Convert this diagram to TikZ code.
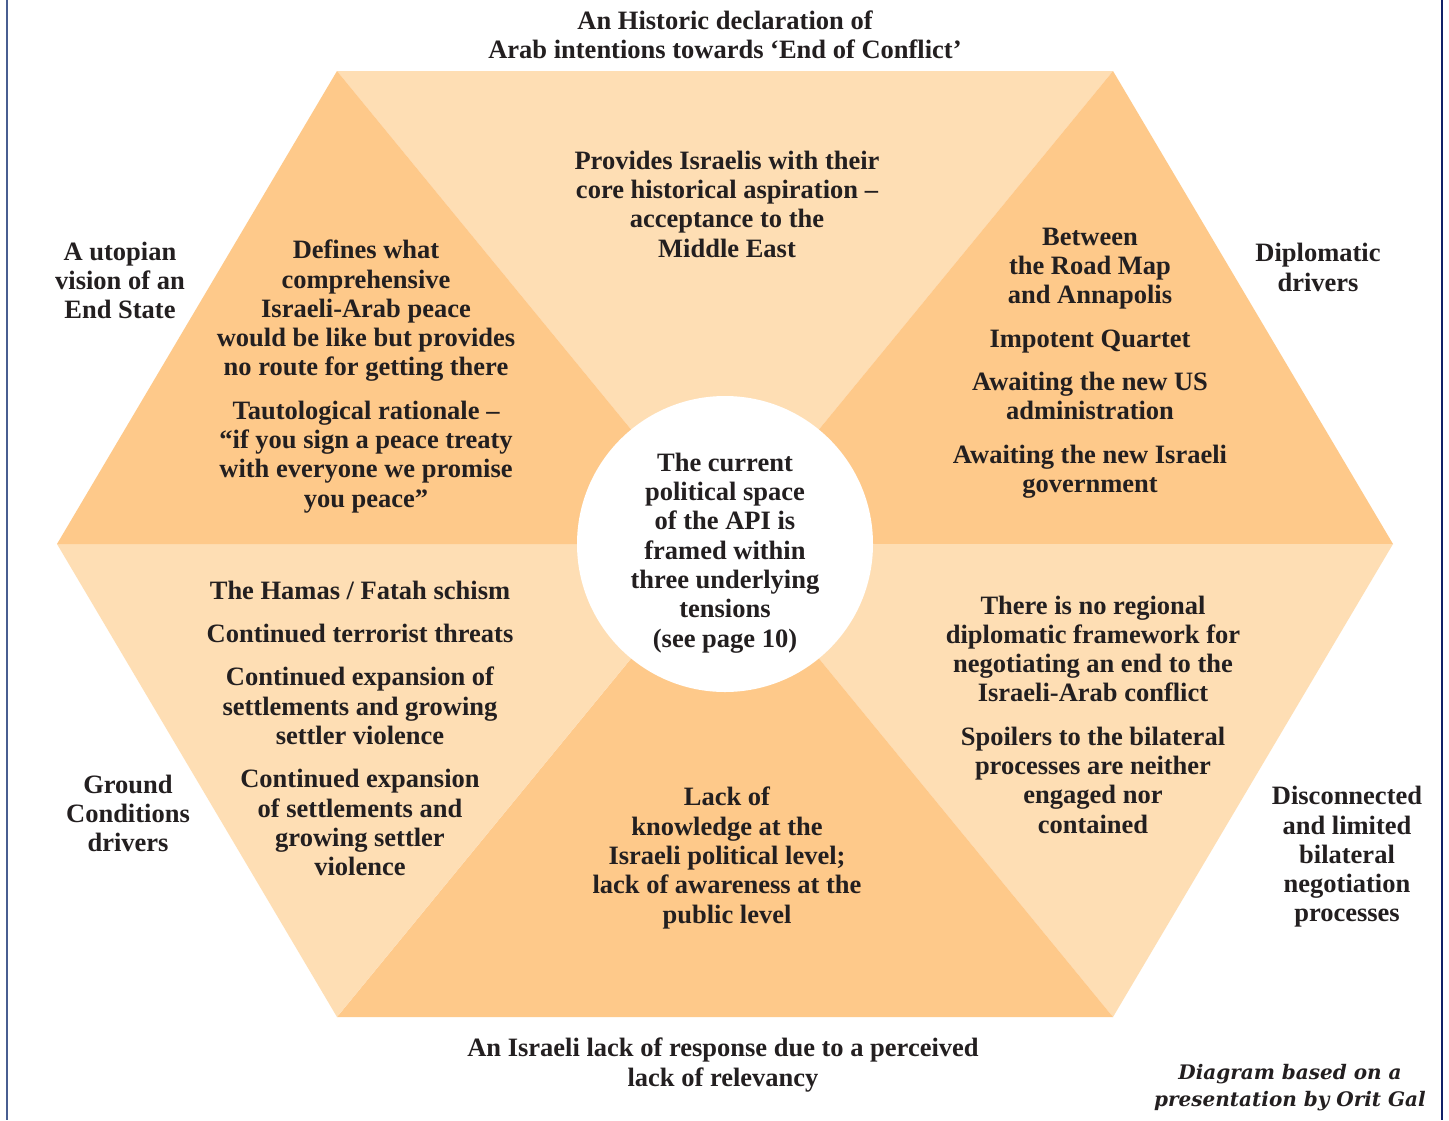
\documentclass[tikz,border=0pt]{standalone}
\usepackage{fontspec}
\setmainfont{Liberation Serif}
\newfontfamily\creditfont{DejaVu Serif}
\definecolor{darkor}{RGB}{254,201,138}
\definecolor{lightor}{RGB}{254,222,180}
\definecolor{inkc}{RGB}{35,31,32}
\definecolor{lblue}{RGB}{72,94,145}
\definecolor{rblue}{RGB}{16,32,104}
\begin{document}
\begin{tikzpicture}[x=1pt,y=-1pt,
  txt/.style={font=\fontsize{26.5}{29.3}\selectfont\bfseries, align=center, text=inkc, inner sep=0pt},
  credit/.style={font=\creditfont\fontsize{20}{27}\selectfont\bfseries\itshape, align=center, text=inkc, inner sep=0pt},
  darkpart/.style={fill=darkor, draw=none},
  lightpart/.style={fill=lightor, draw=none}]
\useasboundingbox (0,0) rectangle (1449,1120);
\fill[white] (0,0) rectangle (1449,1120);
% frame lines
\draw[lblue, line width=2.2pt] (7,0) -- (7,1120);
\draw[rblue, line width=2pt] (1442,0) -- (1442,1120);
% hexagon vertices
\coordinate (C) at (725,544);
\coordinate (TL) at (337,71);
\coordinate (TR) at (1113,71);
\coordinate (R) at (1393,544);
\coordinate (BR) at (1113,1017);
\coordinate (BL) at (337,1017);
\coordinate (L) at (57,544);
\fill[lightpart] (C) -- (TL) -- (TR) -- cycle;
\fill[darkpart] (C) -- (TR) -- (R) -- cycle;
\fill[lightpart] (C) -- (R) -- (BR) -- cycle;
\fill[darkpart] (C) -- (BR) -- (BL) -- cycle;
\fill[lightpart] (C) -- (BL) -- (L) -- cycle;
\fill[darkpart] (C) -- (L) -- (TL) -- cycle;
% centre circle
\node[circle, fill=white, minimum size=296pt, inner sep=0pt] (hub) at (C) {};
\node[txt] (hubtext) at (725,553) {The current\\political space\\of the API is\\framed within\\three underlying\\tensions\\(see page 10)};
% outer labels
\node[txt] (toptitle) at (725,35) {An Historic declaration of\\Arab intentions towards ‘End of Conflict’};
\node[txt] (utopia) at (120,280.5) {A utopian\\vision of an\\End State};
\node[txt] (diplo) at (1318,267.5) {Diplomatic\\drivers};
\node[txt] (ground) at (128,813.5) {Ground\\Conditions\\drivers};
\node[txt] (discon) at (1347,857) {Disconnected\\and limited\\bilateral\\negotiation\\processes};
\node[txt] (bottitle) at (723,1065) {An Israeli lack of response due to a perceived\\lack of relevancy};
\node[credit] (credit) at (1290,1088) {Diagram based on a\\presentation by Orit Gal};
% inner texts
\node[txt] (toptri) at (727,204) {Provides Israelis with their\\core historical aspiration –\\acceptance to the\\Middle East};
\node[txt] (lefttri) at (366,376.5) {Defines what\\comprehensive\\Israeli-Arab peace\\would be like but provides\\no route for getting there\\[14pt]Tautological rationale –\\“if you sign a peace treaty\\with everyone we promise\\you peace”};
\node[txt] (righttri) at (1090,363) {Between\\the Road Map\\and Annapolis\\[14pt]Impotent Quartet\\[14pt]Awaiting the new US\\administration\\[14pt]Awaiting the new Israeli\\government};
\node[txt] (blefttri) at (360,728.5) {The Hamas / Fatah schism\\[14pt]Continued terrorist threats\\[14pt]Continued expansion of\\settlements and growing\\settler violence\\[14pt]Continued expansion\\of settlements and\\growing settler\\violence};
\node[txt] (bottri) at (727,858) {Lack of\\knowledge at the\\Israeli political level;\\lack of awareness at the\\public level};
\node[txt] (brighttri) at (1093,714.5) {There is no regional\\diplomatic framework for\\negotiating an end to the\\Israeli-Arab conflict\\[14pt]Spoilers to the bilateral\\processes are neither\\engaged nor\\contained};
\end{tikzpicture}
\end{document}
